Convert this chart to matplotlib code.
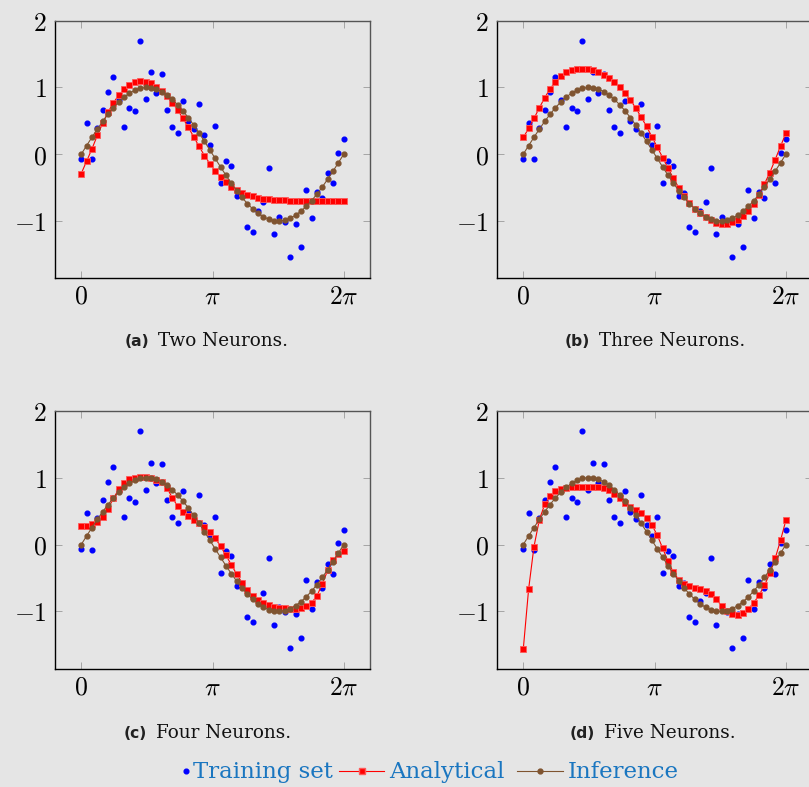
import numpy as np
import matplotlib
matplotlib.use("Agg")
import matplotlib.pyplot as plt
from matplotlib.lines import Line2D

plt.rcParams["mathtext.fontset"] = "cm"
plt.rcParams["font.family"] = ["DejaVu Serif"]

BG = "#e5e5e5"

# 50 evenly spaced sample positions on [0, 2*pi]
x = np.linspace(0, 2 * np.pi, 50)

training_set = [-0.07, 0.465, -0.075, 0.395, 0.66, 0.93, 1.16, 0.815, 0.41, 0.695,
                0.64, 1.695, 0.82, 1.225, 0.915, 1.205, 0.66, 0.405, 0.315, 0.80,
                0.49, 0.375, 0.745, 0.285, 0.13, 0.415, -0.43, -0.10, -0.175, -0.62,
                -0.58, -1.09, -1.16, -0.85, -0.72, -0.20, -1.195, -0.94, -1.015, -1.54,
                -1.045, -1.395, -0.53, -0.96, -0.565, -0.65, -0.285, -0.435, 0.02, 0.22]

inference = [0.0, 0.128, 0.254, 0.375, 0.491, 0.598, 0.696, 0.782, 0.855, 0.914,
             0.959, 0.987, 1.0, 0.995, 0.975, 0.938, 0.886, 0.820, 0.740, 0.648,
             0.546, 0.434, 0.315, 0.191, 0.064, -0.064, -0.191, -0.315, -0.434, -0.546,
             -0.648, -0.740, -0.820, -0.886, -0.938, -0.975, -0.995, -1.0, -0.987, -0.959,
             -0.914, -0.855, -0.782, -0.696, -0.598, -0.491, -0.375, -0.254, -0.128, 0.0]

analytical_two = [-0.29, -0.105, 0.08, 0.28, 0.465, 0.63, 0.77, 0.885, 0.975, 1.035,
                  1.075, 1.09, 1.085, 1.06, 1.005, 0.94, 0.865, 0.77, 0.66, 0.535,
                  0.40, 0.26, 0.115, -0.02, -0.14, -0.25, -0.34, -0.42, -0.485, -0.535,
                  -0.575, -0.605, -0.63, -0.65, -0.665, -0.675, -0.68, -0.685, -0.69, -0.695,
                  -0.70, -0.70, -0.70, -0.70, -0.70, -0.705, -0.705, -0.705, -0.705, -0.705]

analytical_three = [0.25, 0.385, 0.535, 0.695, 0.845, 0.98, 1.085, 1.165, 1.225, 1.26,
                    1.28, 1.28, 1.275, 1.255, 1.225, 1.19, 1.14, 1.08, 1.00, 0.91,
                    0.81, 0.69, 0.555, 0.415, 0.26, 0.105, -0.05, -0.21, -0.36, -0.50,
                    -0.62, -0.725, -0.815, -0.88, -0.935, -0.985, -1.025, -1.04, -1.04, -1.02,
                    -0.985, -0.93, -0.85, -0.745, -0.605, -0.445, -0.275, -0.08, 0.12, 0.315]

analytical_four = [0.275, 0.28, 0.305, 0.34, 0.415, 0.535, 0.69, 0.825, 0.92, 0.975,
                   1.00, 1.01, 1.005, 0.99, 0.965, 0.935, 0.845, 0.70, 0.57, 0.48,
                   0.42, 0.37, 0.32, 0.255, 0.185, 0.095, -0.025, -0.16, -0.30, -0.44,
                   -0.57, -0.68, -0.765, -0.825, -0.87, -0.905, -0.93, -0.945, -0.955, -0.96,
                   -0.96, -0.95, -0.925, -0.87, -0.765, -0.59, -0.385, -0.235, -0.14, -0.095]

analytical_five = [-1.565, -0.665, -0.03, 0.37, 0.60, 0.725, 0.795, 0.83, 0.845, 0.855,
                   0.86, 0.86, 0.86, 0.86, 0.855, 0.84, 0.81, 0.76, 0.695, 0.625,
                   0.565, 0.515, 0.47, 0.395, 0.29, 0.14, -0.055, -0.25, -0.415, -0.525,
                   -0.59, -0.625, -0.65, -0.67, -0.69, -0.735, -0.82, -0.915, -0.995, -1.045,
                   -1.055, -1.03, -0.96, -0.87, -0.755, -0.61, -0.43, -0.205, 0.065, 0.365]

panel_tags = ["(a)", "(b)", "(c)", "(d)"]
panel_names = ["Two Neurons.", "Three Neurons.", "Four Neurons.", "Five Neurons."]
analytical = [analytical_two, analytical_three, analytical_four, analytical_five]
legend_labels = ["Training set", "Analytical", "Inference"]

xtick_vals = [0, np.pi, 2 * np.pi]
xtick_labels = [r"$0$", r"$\pi$", r"$2\pi$"]
ytick_vals = [-1, 0, 1, 2]
ytick_labels = [r"$-1$", r"$0$", r"$1$", r"$2$"]

W, H = 809, 787
fig = plt.figure(figsize=(W / 100, H / 100), dpi=100, facecolor=BG)

RED = "#ff0000"
RED_EDGE = "#ff5a5a"
BROWN = "#7f5430"
BLUE = "#0000ff"
LEGEND_TEXT = "#1a76c0"

blue_style = dict(linestyle="none", marker="o", ms=3.4, color=BLUE, mec=BLUE)
red_style = dict(color=RED, lw=0.8, marker="s", ms=3.9, mec=RED_EDGE, mew=0.6)
brown_style = dict(color=BROWN, lw=0.8, marker="o", ms=3.5, mec=BROWN)

# axes boxes in pixels: left, top, right, bottom
boxes = [(55, 20.7, 370, 278.3), (497, 20.7, 812.2, 278.3),
         (55, 410.7, 370, 669), (497, 410.7, 812.2, 669)]
caption_pos = [(206, 341), (655, 341), (207, 733), (653, 733)]


def fx(px):
    return px / W


def fy(py):
    return 1 - py / H


fig.canvas.draw()
rend = fig.canvas.get_renderer()

for i, (l, t, r, b) in enumerate(boxes):
    ax = fig.add_axes([fx(l), fy(b), (r - l) / W, (b - t) / H])
    ax.set_facecolor(BG)
    ax.plot(x, training_set, zorder=3, **blue_style)
    ax.plot(x, analytical[i], zorder=4, **red_style)
    ax.plot(x, inference, zorder=5, **brown_style)
    ax.set_xlim(-0.2 * np.pi, 2.2 * np.pi)
    ax.set_ylim(-1.86, 2.0)
    ax.set_xticks(xtick_vals, xtick_labels)
    ax.set_yticks(ytick_vals, ytick_labels)
    ax.tick_params(direction="in", length=5, width=0.6, color="#9a9a9a",
                   top=True, right=True, labelsize=18.5, pad=6)
    ax.tick_params(axis="x", pad=4)
    for side in ("left", "bottom"):
        ax.spines[side].set_color("black")
        ax.spines[side].set_linewidth(1.0)
    for side in ("top", "right"):
        ax.spines[side].set_color("#555555")
        ax.spines[side].set_linewidth(1.0)

    # subfigure caption: bold sans tag followed by serif name
    cx, cy = caption_pos[i]
    tag = fig.text(0, fy(cy), panel_tags[i], family="DejaVu Sans",
                   weight="bold", fontsize=11.2, color="#222222", va="center")
    name = fig.text(0, fy(cy), panel_names[i], family="DejaVu Serif",
                    fontsize=13.2, color="#111111", va="center")
    wt = tag.get_window_extent(rend).width
    wn = name.get_window_extent(rend).width
    gap = 9
    start = cx - (wt + gap + wn) / 2
    tag.set_x(fx(start))
    name.set_x(fx(start + wt + gap))

# legend row below the panels
ly = 772
fig.add_artist(Line2D([fx(186)], [fy(ly - 1)], transform=fig.transFigure,
                      **blue_style))
for (x0, x1), st in zip([(339, 384), (517, 563)], [red_style, brown_style]):
    fig.add_artist(Line2D([fx(x0), fx(x1)], [fy(ly - 1)] * 2,
                          transform=fig.transFigure, lw=st["lw"], color=st["color"]))
    fig.add_artist(Line2D([fx((x0 + x1) / 2)], [fy(ly - 1)],
                          transform=fig.transFigure, linestyle="none",
                          marker=st["marker"], ms=st["ms"], color=st["color"],
                          mec=st["mec"]))
for lx, label in zip([193, 389, 568], legend_labels):
    fig.text(fx(lx), fy(ly), label, fontsize=16.5, color=LEGEND_TEXT,
             va="center", ha="left")

fig.savefig("out.png", dpi=100, facecolor=BG)
